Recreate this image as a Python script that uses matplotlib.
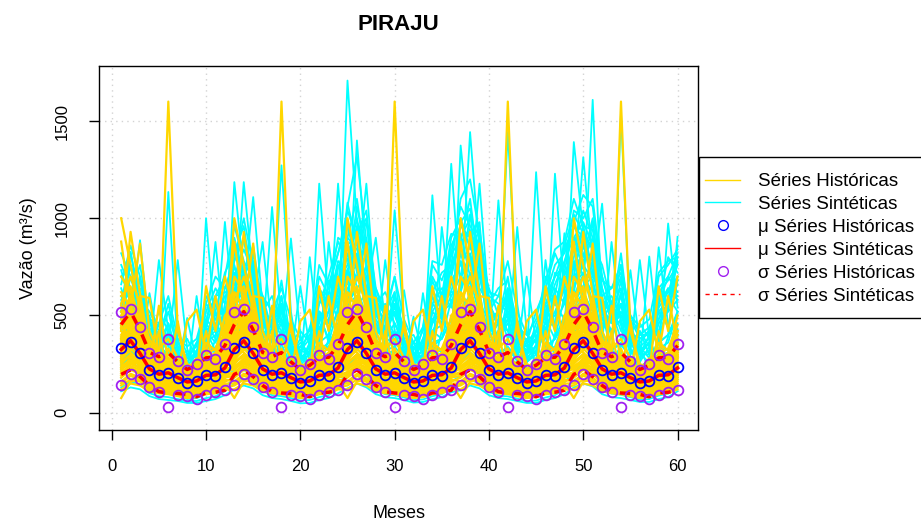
import numpy as np
import matplotlib
matplotlib.use("Agg")
import matplotlib.pyplot as plt
from matplotlib.lines import Line2D
from matplotlib.patches import Rectangle

plt.rcParams['font.family'] = ['Liberation Sans', 'DejaVu Sans']

# ------------------------
# Dados - posto PIRAJU (m3/s)
# ------------------------
# vazoes historicas por ano (jan..dez), repetidas nos 5 anos do horizonte
hist_anos = [
    [1000, 760, 520, 330, 260, 240, 210, 170, 180, 230, 210, 300],
    [420, 930, 610, 340, 250, 1600, 420, 250, 230, 260, 240, 330],
    [880, 540, 870, 420, 300, 260, 230, 190, 200, 280, 250, 420],
    [250, 300, 240, 170, 150, 130, 120, 100, 110, 140, 150, 180],
    [310, 380, 290, 210, 180, 160, 150, 130, 150, 170, 160, 220],
    [180, 220, 200, 150, 130, 120, 110, 95, 100, 120, 130, 160],
    [550, 480, 400, 260, 230, 210, 190, 160, 170, 250, 220, 290],
    [140, 170, 160, 120, 110, 100, 90, 80, 85, 100, 110, 130],
    [380, 420, 350, 240, 220, 280, 200, 170, 210, 240, 230, 260],
    [270, 330, 280, 200, 170, 190, 170, 140, 160, 180, 190, 250],
    [460, 500, 330, 230, 200, 170, 160, 140, 140, 160, 180, 240],
    [200, 250, 230, 180, 150, 140, 130, 110, 120, 150, 160, 190],
    [330, 310, 260, 190, 210, 200, 180, 150, 160, 210, 200, 280],
    [120, 150, 140, 110, 100, 95, 85, 75, 80, 95, 100, 120],
    [600, 650, 450, 290, 240, 230, 250, 200, 230, 300, 270, 380],
    [230, 280, 260, 190, 160, 150, 140, 120, 130, 160, 170, 200],
    [290, 350, 300, 220, 190, 330, 210, 150, 170, 190, 210, 270],
    [75, 160, 170, 130, 120, 110, 100, 90, 95, 110, 115, 150],
    [360, 400, 320, 250, 200, 180, 160, 140, 180, 230, 210, 250],
    [240, 270, 250, 180, 170, 160, 150, 130, 140, 170, 170, 210],
    [520, 560, 380, 260, 240, 220, 200, 170, 200, 650, 420, 700],
    [160, 200, 180, 140, 130, 120, 110, 100, 105, 130, 140, 170],
    [300, 360, 330, 230, 210, 250, 230, 190, 240, 280, 260, 330],
    [190, 230, 210, 160, 140, 130, 120, 100, 110, 130, 140, 180],
    [430, 450, 360, 270, 230, 210, 180, 160, 170, 190, 200, 290],
    [260, 290, 240, 180, 160, 150, 130, 120, 130, 150, 160, 200],
    [340, 380, 310, 230, 550, 260, 190, 160, 170, 200, 190, 240],
    [210, 240, 220, 170, 150, 140, 130, 110, 120, 140, 150, 190],
    [480, 440, 400, 280, 230, 200, 470, 200, 180, 210, 220, 280],
    [150, 190, 170, 130, 120, 110, 100, 90, 95, 110, 120, 150],
    [280, 320, 600, 590, 300, 240, 200, 470, 530, 300, 600, 350],
    [220, 260, 230, 170, 420, 180, 160, 130, 150, 420, 190, 230],
    [400, 470, 380, 260, 220, 230, 200, 170, 190, 230, 240, 300],
    [520, 430, 450, 300, 250, 240, 220, 180, 200, 260, 270, 380],
    [350, 560, 420, 280, 230, 220, 190, 160, 170, 220, 250, 330],
    [450, 380, 340, 250, 240, 300, 240, 190, 180, 280, 300, 420],
    [280, 420, 500, 320, 260, 250, 210, 170, 200, 240, 220, 290],
    [620, 540, 380, 270, 230, 200, 180, 150, 160, 200, 210, 350],
    [330, 400, 360, 300, 280, 260, 230, 200, 260, 330, 280, 310],
    [390, 350, 300, 230, 200, 190, 170, 140, 150, 180, 230, 380],
    [500, 600, 460, 330, 270, 250, 220, 180, 190, 300, 330, 450],
    [260, 300, 280, 210, 190, 200, 190, 160, 170, 200, 200, 240],
    [700, 620, 480, 310, 260, 240, 210, 180, 190, 230, 250, 320],
    [310, 340, 520, 380, 300, 280, 240, 190, 210, 260, 260, 310],
    [440, 520, 400, 280, 330, 380, 280, 210, 240, 360, 320, 400],
    [230, 260, 250, 200, 180, 170, 160, 140, 150, 180, 190, 230],
    [370, 440, 330, 250, 220, 240, 260, 220, 280, 240, 230, 300],
    [560, 700, 560, 360, 290, 270, 240, 200, 210, 270, 290, 500],
    [360, 420, 400, 290, 250, 230, 200, 170, 180, 230, 240, 290],
    [480, 520, 380, 300, 260, 260, 230, 200, 220, 250, 260, 360],
    [300, 480, 360, 250, 230, 210, 180, 160, 170, 240, 220, 320],
    [420, 380, 460, 330, 270, 240, 220, 190, 210, 290, 280, 340],
    [540, 460, 420, 280, 240, 280, 230, 180, 200, 260, 240, 400],
    [270, 360, 320, 240, 210, 200, 180, 150, 170, 210, 220, 270],
    [380, 500, 440, 310, 260, 250, 210, 180, 200, 270, 310, 360],
    [460, 420, 360, 260, 230, 220, 200, 170, 180, 220, 250, 340],
]

# series sinteticas (60 meses cada)
sinteticas = [
    [420, 510, 380, 260, 230, 310, 210, 170, 190, 260, 240, 330,
     560, 620, 470, 300, 280, 350, 250, 190, 220, 300, 280, 390,
     1708, 980, 640, 380, 310, 420, 270, 210, 230, 330, 290, 410,
     470, 520, 410, 290, 250, 260, 220, 180, 190, 250, 260, 340,
     600, 710, 530, 330, 290, 300, 240, 200, 210, 280, 300, 420],
    [300, 360, 290, 210, 180, 1135, 330, 160, 170, 220, 200, 260,
     380, 440, 350, 240, 200, 250, 190, 150, 170, 210, 230, 300,
     470, 1400, 760, 350, 260, 280, 220, 170, 180, 240, 250, 330,
     400, 480, 380, 260, 230, 240, 200, 160, 170, 230, 240, 310,
     520, 600, 1609, 520, 300, 270, 230, 190, 200, 260, 280, 370],
    [250, 300, 260, 190, 170, 180, 160, 140, 150, 1000, 420, 310,
     1186, 720, 480, 300, 250, 240, 200, 170, 180, 230, 260, 350,
     380, 450, 360, 250, 220, 230, 190, 160, 170, 220, 230, 290,
     1374, 890, 560, 330, 270, 260, 220, 180, 200, 250, 270, 360,
     450, 520, 410, 290, 250, 1538, 420, 230, 210, 260, 280, 350],
    [360, 480, 887, 420, 260, 230, 200, 170, 180, 230, 240, 300,
     520, 1186, 690, 380, 290, 270, 230, 190, 200, 260, 270, 380,
     560, 640, 500, 320, 270, 260, 220, 180, 190, 250, 280, 370,
     610, 1443, 820, 420, 300, 290, 250, 200, 210, 270, 290, 400,
     1392, 930, 620, 400, 320, 300, 250, 200, 220, 290, 310, 430],
    [450, 827, 540, 300, 250, 240, 210, 170, 180, 240, 250, 320,
     480, 620, 1109, 540, 310, 280, 230, 190, 200, 250, 270, 360,
     530, 700, 1178, 560, 320, 290, 240, 190, 210, 270, 290, 380,
     500, 560, 450, 300, 260, 270, 220, 180, 190, 250, 260, 350,
     680, 1314, 780, 420, 310, 290, 240, 200, 210, 280, 300, 410],
    [733, 560, 420, 280, 240, 230, 200, 160, 170, 220, 230, 290,
     410, 500, 560, 878, 420, 270, 220, 180, 190, 240, 250, 330,
     470, 540, 620, 900, 460, 300, 240, 190, 200, 250, 270, 350,
     520, 610, 1178, 540, 330, 280, 230, 190, 200, 260, 280, 370,
     560, 650, 700, 1075, 480, 310, 250, 200, 210, 270, 290, 390],
    [280, 340, 290, 615, 360, 220, 190, 150, 160, 200, 210, 270,
     350, 410, 340, 380, 1058, 460, 240, 180, 180, 230, 240, 310,
     400, 470, 380, 340, 785, 420, 230, 180, 190, 240, 250, 330,
     430, 500, 400, 330, 1092, 490, 250, 190, 200, 250, 260, 340,
     460, 540, 430, 360, 878, 450, 240, 190, 200, 260, 270, 350],
    [320, 380, 330, 300, 785, 420, 220, 170, 170, 210, 220, 280,
     390, 450, 370, 320, 440, 1272, 520, 220, 200, 250, 260, 330,
     430, 500, 410, 300, 360, 1041, 460, 210, 200, 250, 270, 340,
     470, 530, 440, 320, 420, 1443, 560, 230, 210, 270, 280, 360,
     500, 570, 460, 340, 400, 620, 330, 220, 210, 270, 280, 360],
    [300, 350, 300, 230, 220, 330, 785, 330, 190, 220, 220, 270,
     360, 420, 350, 260, 240, 380, 896, 400, 210, 240, 250, 310,
     390, 450, 380, 270, 240, 320, 630, 310, 200, 240, 250, 320,
     420, 480, 400, 290, 260, 360, 955, 420, 220, 250, 260, 330,
     440, 500, 420, 300, 270, 340, 733, 350, 210, 250, 260, 330],
    [260, 310, 270, 200, 180, 190, 230, 487, 260, 220, 210, 250,
     320, 380, 320, 230, 210, 220, 280, 650, 330, 240, 230, 280,
     350, 410, 340, 240, 210, 220, 260, 494, 290, 230, 230, 290,
     380, 440, 360, 260, 230, 240, 300, 700, 360, 250, 250, 300,
     400, 460, 380, 270, 240, 250, 310, 785, 380, 260, 250, 310],
    [240, 290, 250, 190, 170, 180, 170, 200, 600, 280, 220, 250,
     300, 360, 300, 220, 200, 210, 200, 230, 800, 350, 250, 290,
     330, 390, 320, 230, 200, 210, 190, 220, 615, 300, 240, 280,
     360, 420, 340, 240, 210, 220, 220, 260, 1237, 480, 280, 300,
     380, 440, 360, 260, 230, 230, 220, 260, 803, 360, 270, 310],
    [270, 320, 270, 200, 180, 190, 170, 150, 170, 420, 878, 390,
     330, 390, 320, 230, 210, 220, 190, 170, 240, 1178, 560, 360,
     360, 420, 340, 240, 210, 220, 190, 170, 230, 1118, 520, 340,
     390, 450, 360, 250, 220, 230, 200, 180, 260, 785, 430, 340,
     410, 470, 380, 260, 230, 240, 210, 190, 270, 851, 450, 350],
    [290, 340, 290, 210, 190, 200, 180, 160, 170, 230, 380, 981,
     470, 410, 340, 240, 210, 220, 190, 170, 180, 260, 878, 520,
     380, 440, 360, 250, 220, 230, 200, 170, 180, 280, 955, 560,
     410, 470, 380, 260, 230, 240, 210, 180, 190, 290, 1229, 610,
     430, 490, 400, 270, 240, 250, 220, 190, 200, 300, 973, 540],
    [230, 280, 240, 180, 160, 170, 150, 130, 140, 180, 190, 260,
     290, 340, 290, 210, 190, 200, 170, 150, 160, 210, 380, 1178,
     560, 460, 360, 240, 210, 220, 190, 160, 170, 220, 420, 1280,
     620, 480, 370, 250, 220, 230, 200, 170, 180, 240, 400, 923,
     500, 430, 350, 250, 220, 230, 200, 170, 180, 250, 390, 904],
    [430, 620, 410, 290, 250, 260, 230, 190, 210, 260, 250, 310,
     540, 700, 450, 300, 330, 280, 250, 200, 220, 280, 300, 420,
     870, 760, 520, 330, 300, 320, 260, 210, 230, 340, 310, 450,
     690, 820, 560, 340, 310, 330, 270, 220, 250, 320, 340, 480,
     760, 880, 640, 380, 330, 350, 290, 240, 260, 330, 360, 520],
    [340, 400, 330, 240, 210, 220, 190, 160, 170, 210, 220, 270,
     640, 520, 380, 260, 230, 240, 210, 170, 180, 230, 240, 330,
     720, 880, 560, 300, 250, 250, 210, 170, 190, 250, 270, 380,
     560, 690, 500, 300, 260, 260, 220, 180, 190, 250, 260, 420,
     640, 760, 560, 320, 280, 280, 230, 190, 200, 270, 290, 460],
    [160, 190, 170, 120, 100, 100, 90, 70, 75, 95, 100, 130,
     180, 220, 190, 130, 110, 110, 95, 75, 80, 100, 110, 150,
     200, 240, 200, 140, 120, 120, 100, 80, 85, 110, 120, 160,
     190, 230, 200, 140, 115, 115, 100, 80, 80, 105, 115, 155,
     210, 250, 210, 145, 120, 125, 105, 85, 90, 115, 125, 170],
    [110, 130, 120, 85, 70, 65, 60, 50, 50, 60, 70, 90,
     120, 140, 125, 90, 75, 70, 60, 48, 50, 65, 75, 100,
     125, 150, 130, 95, 80, 75, 65, 52, 55, 70, 80, 105,
     115, 140, 125, 90, 75, 70, 60, 50, 50, 65, 75, 95,
     130, 150, 135, 95, 80, 75, 65, 55, 55, 70, 80, 110],
    [220, 260, 230, 160, 140, 140, 120, 100, 110, 140, 150, 190,
     250, 300, 260, 180, 150, 150, 130, 110, 120, 150, 160, 210,
     280, 330, 280, 190, 160, 160, 140, 120, 125, 160, 170, 220,
     260, 310, 270, 185, 155, 155, 135, 115, 120, 155, 165, 215,
     300, 350, 290, 200, 170, 170, 145, 120, 130, 170, 180, 240],
    [520, 700, 560, 380, 300, 460, 280, 220, 260, 420, 360, 480,
     780, 900, 620, 420, 380, 560, 360, 260, 300, 520, 470, 620,
     1060, 1320, 880, 520, 420, 600, 380, 270, 320, 560, 500, 760,
     1100, 1200, 920, 560, 460, 640, 420, 300, 340, 520, 560, 720,
     980, 1120, 1060, 640, 500, 760, 440, 320, 360, 600, 620, 760],
    [580, 640, 500, 330, 280, 300, 250, 200, 220, 300, 330, 460,
     820, 760, 600, 380, 320, 420, 290, 230, 250, 360, 400, 620,
     900, 1100, 760, 440, 360, 400, 300, 240, 260, 420, 450, 700,
     980, 1050, 800, 460, 380, 480, 330, 260, 300, 430, 520, 640,
     900, 980, 860, 520, 420, 560, 360, 280, 320, 460, 540, 700],
    [480, 560, 640, 360, 300, 420, 260, 210, 230, 380, 420, 520,
     700, 840, 720, 460, 360, 600, 320, 240, 260, 480, 520, 680,
     760, 960, 860, 480, 400, 520, 320, 250, 280, 520, 600, 820,
     880, 920, 980, 420, 480, 700, 400, 300, 420, 560, 700, 760,
     1040, 1000, 1100, 700, 520, 820, 420, 340, 380, 540, 620, 680],
    [640, 480, 700, 380, 450, 300, 380, 230, 320, 280, 520, 420,
     760, 560, 820, 480, 360, 540, 300, 380, 270, 500, 380, 700,
     600, 940, 620, 520, 380, 460, 340, 260, 380, 460, 620, 540,
     820, 660, 900, 430, 520, 380, 460, 270, 350, 560, 420, 700,
     700, 960, 640, 560, 400, 620, 340, 420, 300, 520, 440, 680],
    [520, 760, 480, 420, 300, 380, 260, 300, 220, 380, 300, 560,
     880, 640, 760, 380, 460, 360, 420, 260, 340, 420, 600, 480,
     980, 720, 880, 600, 420, 560, 300, 360, 260, 600, 480, 820,
     700, 1020, 640, 560, 360, 520, 380, 320, 420, 380, 640, 560,
     900, 740, 980, 520, 460, 500, 420, 300, 360, 640, 520, 780],
    [380, 560, 620, 300, 380, 260, 300, 200, 260, 340, 460, 380,
     600, 720, 520, 560, 300, 420, 260, 300, 220, 520, 360, 540,
     740, 560, 760, 380, 520, 340, 380, 220, 300, 380, 560, 620,
     620, 780, 560, 480, 300, 560, 300, 360, 260, 480, 380, 600,
     780, 620, 820, 420, 520, 380, 460, 260, 340, 420, 600, 520],
    [560, 620, 420, 480, 340, 300, 340, 250, 200, 460, 380, 640,
     720, 580, 680, 420, 380, 480, 340, 220, 360, 380, 520, 760,
     660, 820, 560, 460, 340, 620, 280, 300, 240, 520, 460, 700,
     920, 700, 760, 380, 460, 420, 300, 380, 300, 620, 560, 480,
     620, 860, 700, 600, 380, 560, 300, 340, 280, 560, 700, 620],
    [460, 400, 540, 360, 420, 380, 220, 280, 300, 300, 560, 480,
     540, 660, 460, 340, 480, 320, 380, 300, 240, 620, 420, 520,
     880, 640, 700, 420, 300, 400, 360, 240, 340, 420, 380, 580,
     560, 720, 620, 360, 420, 480, 260, 300, 380, 460, 720, 660,
     840, 700, 620, 480, 560, 420, 380, 300, 260, 380, 560, 800],
    [600, 520, 460, 340, 280, 420, 300, 200, 280, 420, 320, 460,
     660, 760, 580, 380, 420, 380, 280, 340, 300, 360, 680, 560,
     700, 780, 640, 560, 380, 360, 420, 300, 220, 560, 520, 660,
     780, 600, 820, 500, 340, 600, 360, 260, 320, 520, 460, 760,
     680, 780, 900, 440, 480, 460, 300, 380, 420, 480, 640, 580],
    [340, 440, 380, 260, 300, 240, 260, 180, 220, 260, 280, 400,
     480, 520, 420, 320, 280, 300, 240, 200, 260, 320, 340, 460,
     560, 600, 480, 340, 300, 320, 260, 200, 240, 340, 380, 480,
     520, 560, 460, 330, 300, 340, 280, 220, 260, 320, 380, 500,
     540, 620, 520, 360, 320, 360, 280, 230, 260, 360, 400, 520],
    [700, 600, 760, 460, 380, 560, 340, 280, 360, 480, 600, 620,
     620, 900, 740, 520, 440, 480, 380, 320, 300, 560, 640, 820,
     960, 780, 860, 540, 480, 700, 360, 300, 360, 680, 560, 740,
     860, 940, 780, 520, 460, 620, 420, 340, 380, 600, 700, 840,
     960, 860, 780, 640, 460, 680, 380, 400, 440, 560, 800, 720],
    [180, 230, 200, 150, 130, 140, 120, 95, 100, 130, 140, 180,
     220, 270, 230, 170, 140, 140, 120, 100, 110, 140, 150, 200,
     240, 290, 250, 180, 150, 150, 130, 105, 115, 150, 160, 210,
     230, 280, 240, 175, 145, 145, 125, 100, 110, 145, 155, 205,
     260, 300, 260, 185, 155, 160, 135, 110, 120, 155, 165, 220],
    [130, 160, 145, 100, 85, 80, 70, 60, 60, 75, 85, 110,
     150, 175, 155, 110, 90, 85, 75, 62, 65, 80, 90, 125,
     160, 190, 165, 115, 95, 90, 78, 65, 68, 85, 95, 130,
     145, 170, 150, 108, 88, 84, 72, 60, 62, 78, 90, 120,
     165, 195, 170, 118, 98, 92, 80, 66, 70, 88, 98, 135],
    [560, 820, 600, 460, 380, 520, 320, 380, 280, 520, 640, 560,
     900, 700, 860, 520, 600, 460, 420, 300, 440, 560, 700, 880,
     780, 1000, 760, 640, 480, 560, 440, 320, 420, 700, 600, 900,
     1000, 840, 940, 600, 560, 520, 480, 360, 520, 640, 820, 700,
     860, 1040, 900, 700, 540, 640, 420, 460, 380, 700, 760, 840],
    [760, 640, 580, 520, 420, 360, 420, 300, 340, 600, 520, 720,
     820, 960, 640, 600, 420, 680, 360, 420, 360, 640, 560, 660,
     1080, 860, 980, 560, 620, 500, 380, 400, 300, 620, 720, 760,
     880, 1100, 720, 520, 600, 560, 400, 300, 460, 560, 600, 860,
     1020, 920, 840, 600, 640, 720, 480, 380, 420, 620, 680, 760],
    [480, 700, 520, 400, 460, 340, 300, 260, 360, 420, 480, 600,
     620, 760, 580, 440, 500, 420, 460, 280, 320, 460, 620, 580,
     820, 680, 900, 500, 440, 540, 420, 300, 340, 480, 540, 680,
     760, 860, 700, 480, 520, 420, 360, 320, 380, 500, 560, 720,
     740, 820, 760, 540, 460, 600, 400, 360, 420, 560, 640, 600],
    [600, 540, 680, 440, 360, 460, 280, 320, 240, 480, 420, 520,
     700, 620, 780, 480, 400, 520, 340, 340, 400, 520, 460, 740,
     900, 840, 700, 520, 560, 460, 360, 280, 380, 560, 640, 620,
     840, 780, 880, 560, 460, 640, 360, 340, 300, 700, 560, 660,
     800, 960, 720, 580, 500, 560, 460, 300, 400, 520, 580, 860],
    [700, 760, 620, 380, 520, 420, 360, 280, 300, 560, 500, 480,
     840, 880, 700, 560, 440, 600, 300, 360, 300, 600, 560, 780,
     720, 1060, 820, 580, 500, 400, 460, 260, 440, 640, 520, 860,
     960, 900, 800, 640, 500, 580, 440, 400, 360, 520, 660, 780,
     900, 800, 1000, 560, 600, 500, 360, 420, 340, 600, 620, 700],
    [420, 600, 460, 500, 300, 400, 300, 240, 300, 380, 560, 500,
     560, 680, 600, 380, 520, 380, 400, 260, 360, 420, 480, 640,
     700, 760, 640, 460, 380, 600, 320, 340, 260, 460, 520, 560,
     640, 800, 560, 420, 460, 500, 300, 280, 340, 460, 500, 640,
     700, 760, 680, 480, 420, 520, 400, 300, 360, 480, 560, 660],
    [820, 700, 560, 420, 400, 380, 340, 260, 320, 440, 600, 700,
     960, 780, 680, 500, 460, 540, 420, 320, 380, 700, 600, 900,
     860, 920, 1040, 600, 520, 620, 400, 360, 340, 760, 680, 820,
     1060, 960, 860, 560, 640, 680, 460, 360, 420, 600, 760, 820,
     960, 900, 860, 760, 560, 700, 500, 400, 400, 640, 700, 820],
    [520, 480, 600, 360, 420, 300, 320, 220, 280, 360, 400, 460,
     600, 540, 640, 420, 360, 460, 300, 300, 260, 440, 480, 560,
     640, 700, 600, 400, 440, 400, 300, 260, 300, 420, 500, 600,
     700, 640, 720, 440, 380, 460, 340, 260, 320, 440, 460, 560,
     660, 720, 680, 460, 420, 480, 320, 300, 300, 460, 520, 580],
    [660, 860, 700, 480, 460, 600, 380, 340, 380, 560, 700, 640,
     780, 1000, 760, 600, 520, 640, 480, 380, 420, 760, 660, 820,
     1040, 900, 1000, 640, 520, 700, 480, 360, 440, 780, 760, 920,
     900, 1000, 900, 620, 600, 780, 520, 400, 480, 680, 840, 880,
     1100, 960, 940, 680, 640, 760, 500, 440, 480, 720, 780, 800],
    [380, 420, 360, 280, 260, 280, 240, 200, 220, 300, 320, 380,
     440, 500, 420, 320, 300, 320, 260, 220, 240, 320, 360, 440,
     500, 560, 460, 340, 320, 340, 280, 230, 250, 360, 380, 480,
     480, 540, 460, 340, 310, 330, 270, 220, 250, 340, 380, 460,
     520, 580, 500, 360, 330, 350, 290, 240, 260, 360, 400, 500],
]

# estatisticas mensais (jan..dez)
media_hist = [332, 366, 309, 220, 195, 203, 178, 152, 161, 195, 191, 234]
desvio_hist = [188, 166, 134, 87, 90, 176, 88, 66, 90, 102, 84, 118]
media_sint = [325, 370, 305, 225, 198, 205, 180, 158, 163, 192, 195, 230]
desvio_sint = [128, 150, 120, 85, 90, 104, 81, 64, 81, 90, 90, 115]

n_anos = 5
meses = np.arange(1, 12 * n_anos + 1)

mu_h = np.tile(media_hist, n_anos)
sd_h = np.tile(desvio_hist, n_anos)
mu_s = np.tile(media_sint, n_anos)
sd_s = np.tile(desvio_sint, n_anos)

# ------------------------
# Grafico
# ------------------------
fig = plt.figure(figsize=(9.21, 5.25), dpi=100)
ax = fig.add_axes([0.1075, 0.181, 0.6507, 0.6933])

for s in sinteticas:
    ax.plot(meses, s, color='cyan', lw=1.3, zorder=2)

for ano in hist_anos:
    ax.plot(meses, np.tile(ano, n_anos), color='gold', lw=1.6, zorder=3)

ax.plot(meses, mu_s, color='red', lw=2.5, zorder=4)
ax.plot(meses, mu_s + sd_s, color='red', lw=2.5, dashes=(3, 3), zorder=4)
ax.plot(meses, mu_s - sd_s, color='red', lw=2.5, dashes=(3, 3), zorder=4)

ax.plot(meses, mu_h, 'o', mfc='none', mec='blue', ms=7, mew=1.3, zorder=5)
ax.plot(meses, mu_h + sd_h, 'o', mfc='none', mec='#A020F0', ms=7, mew=1.3, zorder=5)
ax.plot(meses, mu_h - sd_h, 'o', mfc='none', mec='#A020F0', ms=7, mew=1.3, zorder=5)

ax.set_xlim(-1.35, 62.2)
ax.set_ylim(-89, 1783)
ax.set_xticks(range(0, 61, 10))
ax.set_yticks([0, 500, 1000, 1500])
ax.set_yticklabels(['0', '500', '1000', '1500'], rotation=90, va='center')
ax.tick_params(direction='out', length=7, width=1, labelsize=12, pad=14)
ax.grid(True, color='lightgray', linestyle=(0, (1, 3)), lw=1)
ax.set_axisbelow(True)
for sp in ax.spines.values():
    sp.set_linewidth(1)

ax.set_title('PIRAJU', fontweight='bold', fontsize=16, pad=26)
ax.set_xlabel('Meses', fontsize=13, labelpad=22)
ax.set_ylabel('Vazão (m³/s)', fontsize=13, labelpad=13)

# legenda fora do grafico, com caixa encostada na borda direita dos eixos
caixa = Rectangle((0.759, 0.3943), 0.3, 0.3067, transform=fig.transFigure,
                  facecolor='white', edgecolor='black', lw=1, zorder=1)
fig.patches.append(caixa)

handles = [
    Line2D([], [], color='gold', lw=1),
    Line2D([], [], color='cyan', lw=1),
    Line2D([], [], ls='none', marker='o', mfc='none', mec='blue', ms=7),
    Line2D([], [], color='red', lw=1),
    Line2D([], [], ls='none', marker='o', mfc='none', mec='#A020F0', ms=7),
    Line2D([], [], color='red', lw=1, dashes=(3, 3)),
]
labels = ['Séries Históricas', 'Séries Sintéticas', 'μ Séries Históricas',
          'μ Séries Sintéticas', 'σ Séries Históricas', 'σ Séries Sintéticas']
fig.legend(handles, labels, loc='center left', bbox_to_anchor=(0.7655, 0.545),
           borderaxespad=0, borderpad=0, fontsize=13.5, frameon=False,
           handlelength=1.87, handletextpad=0.96, labelspacing=0.31)

fig.savefig('out.png', dpi=100)
